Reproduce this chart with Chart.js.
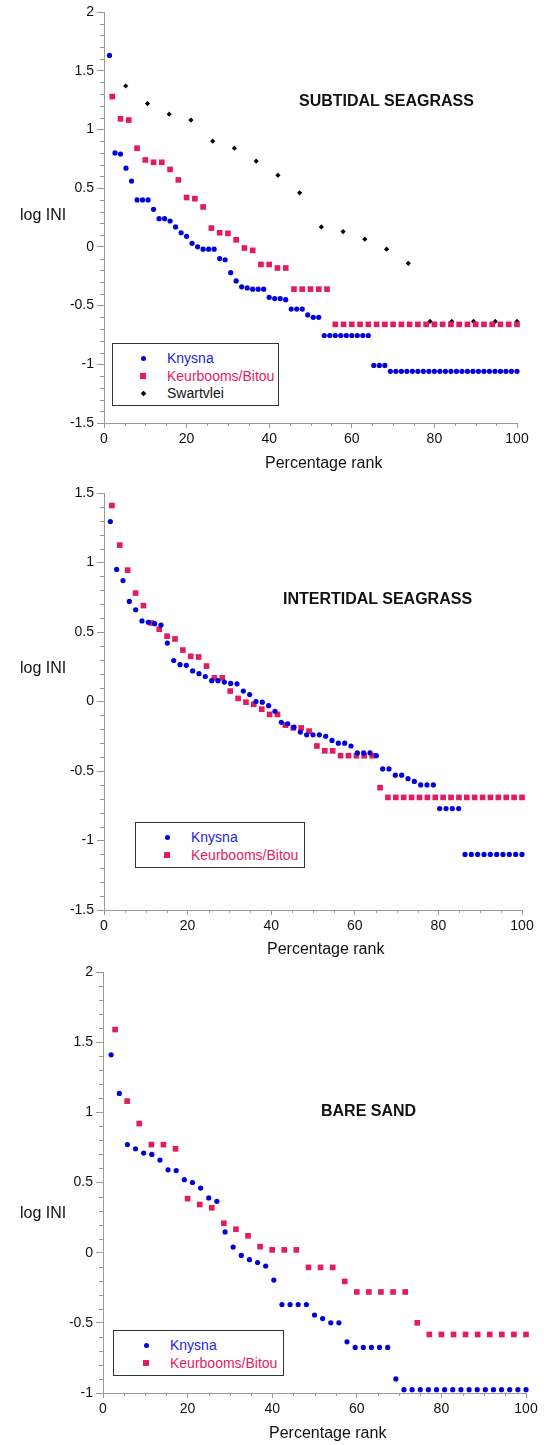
<!DOCTYPE html>
<html>
<head>
<meta charset="utf-8">
<title>log INI vs percentage rank</title>
<script src="https://cdn.jsdelivr.net/npm/chart.js@4.4.1/dist/chart.umd.min.js"></script>
<style>
  html, body { margin: 0; padding: 0; background: #fff; }
  body { position: relative; width: 544px; height: 1445px; overflow: hidden;
         font-family: "Liberation Sans", Arial, sans-serif; color: #111; }
  canvas { position: absolute; left: 0; }
  .txt { position: absolute; white-space: nowrap; font-size: 16px; line-height: 16px; }
  .title { font-weight: bold; }
  .legend { position: absolute; box-sizing: border-box; border: 1px solid #333; background: #fff; }
  .legend .item { position: absolute; font-size: 14px; line-height: 14px; white-space: nowrap; }
  .legend .mk { position: absolute; }
</style>
</head>
<body>
<script>
// --- DATA: SUBTIDAL SEAGRASS --- //
const subKnysnaX = [1.33, 2.67, 4, 5.33, 6.67, 8, 9.33, 10.67, 12, 13.33, 14.67, 16, 17.33, 18.67, 20,
  21.33, 22.67, 24, 25.33, 26.67, 28, 29.33, 30.67, 32, 33.33, 34.67, 36, 37.33, 38.67, 40,
  41.33, 42.67, 44, 45.33, 46.67, 48, 49.33, 50.67, 52, 53.33, 54.67, 56, 57.33, 58.67, 60,
  61.33, 62.67, 64, 65.33, 66.67, 68, 69.33, 70.67, 72, 73.33, 74.67, 76, 77.33, 78.67, 80,
  81.33, 82.67, 84, 85.33, 86.67, 88, 89.33, 90.67, 92, 93.33, 94.67, 96, 97.33, 98.67, 100];
const subKnysnaY = [1.63, 0.80, 0.79, 0.67, 0.56, 0.40, 0.40, 0.40, 0.32, 0.24, 0.24, 0.22, 0.17, 0.12, 0.09,
  0.03, 0.00, -0.02, -0.02, -0.02, -0.10, -0.11, -0.22, -0.29, -0.34, -0.35, -0.36, -0.36, -0.36, -0.43,
  -0.44, -0.44, -0.45, -0.53, -0.53, -0.53, -0.58, -0.60, -0.60, -0.755, -0.755, -0.755, -0.755, -0.755, -0.755,
  -0.755, -0.755, -0.755, -1.01, -1.01, -1.01, -1.06, -1.06, -1.06, -1.06, -1.06, -1.06, -1.06, -1.06, -1.06,
  -1.06, -1.06, -1.06, -1.06, -1.06, -1.06, -1.06, -1.06, -1.06, -1.06, -1.06, -1.06, -1.06, -1.06, -1.06];

const subKeurX = [2, 4, 6, 8, 10, 12, 14, 16, 18, 20, 22, 24, 26, 28, 30, 32, 34, 36, 38, 40, 42, 44, 46, 48, 50,
  52, 54, 56, 58, 60, 62, 64, 66, 68, 70, 72, 74, 76, 78, 80, 82, 84, 86, 88, 90, 92, 94, 96, 98, 100];
const subKeurY = [1.28, 1.09, 1.08, 0.84, 0.74, 0.72, 0.72, 0.66, 0.57, 0.42, 0.41, 0.34, 0.16, 0.12, 0.115,
  0.06, -0.01, -0.03, -0.15, -0.15, -0.18, -0.18, -0.36, -0.36, -0.36, -0.36, -0.36, -0.66, -0.66, -0.66,
  -0.66, -0.66, -0.66, -0.66, -0.66, -0.66, -0.66, -0.66, -0.66, -0.66, -0.66, -0.66, -0.66, -0.66, -0.66,
  -0.66, -0.66, -0.66, -0.66, -0.66];

const subSwartX = [5.26, 10.53, 15.79, 21.05, 26.32, 31.58, 36.84, 42.11, 47.37, 52.63, 57.89, 63.16,
  68.42, 73.68, 78.95, 84.21, 89.47, 94.74, 100];
const subSwartY = [1.37, 1.22, 1.13, 1.08, 0.90, 0.84, 0.73, 0.61, 0.46, 0.17, 0.13, 0.065,
  -0.02, -0.14, -0.635, -0.635, -0.635, -0.635, -0.635];

// --- DATA: INTERTIDAL SEAGRASS --- //
const intKnysnaX = [1.52, 3.03, 4.55, 6.06, 7.58, 9.09, 10.61, 12.12, 13.64, 15.15, 16.67, 18.18, 19.70,
  21.21, 22.73, 24.24, 25.76, 27.27, 28.79, 30.30, 31.82, 33.33, 34.85, 36.36, 37.88, 39.39, 40.91,
  42.42, 43.94, 45.45, 46.97, 48.48, 50.00, 51.52, 53.03, 54.55, 56.06, 57.58, 59.09, 60.61, 62.12,
  63.64, 65.15, 66.67, 68.18, 69.70, 71.21, 72.73, 74.24, 75.76, 77.27, 78.79, 80.30, 81.82, 83.33,
  84.85, 86.36, 87.88, 89.39, 90.91, 92.42, 93.94, 95.45, 96.97, 98.48, 100];
const intKnysnaY = [1.295, 0.95, 0.87, 0.72, 0.66, 0.58, 0.57, 0.56, 0.55, 0.42, 0.295, 0.265, 0.26,
  0.22, 0.20, 0.18, 0.15, 0.15, 0.14, 0.13, 0.127, 0.075, 0.05, 0.0, -0.005, -0.03, -0.07,
  -0.15, -0.16, -0.185, -0.22, -0.24, -0.24, -0.24, -0.25, -0.28, -0.30, -0.30, -0.32, -0.37, -0.37,
  -0.37, -0.39, -0.485, -0.485, -0.53, -0.53, -0.555, -0.575, -0.60, -0.60, -0.60, -0.77, -0.77, -0.77,
  -0.77, -1.10, -1.10, -1.10, -1.10, -1.10, -1.10, -1.10, -1.10, -1.10, -1.10];

const intKeurX = [1.89, 3.77, 5.66, 7.55, 9.43, 11.32, 13.21, 15.09, 16.98, 18.87, 20.75, 22.64, 24.53,
  26.42, 28.30, 30.19, 32.08, 33.96, 35.85, 37.74, 39.62, 41.51, 43.40, 45.28, 47.17, 49.06, 50.94,
  52.83, 54.72, 56.60, 58.49, 60.38, 62.26, 64.15, 66.04, 67.92, 69.81, 71.70, 73.58, 75.47, 77.36,
  79.25, 81.13, 83.02, 84.91, 86.79, 88.68, 90.57, 92.45, 94.34, 96.23, 98.11, 100];
const intKeurY = [1.41, 1.125, 0.945, 0.78, 0.69, 0.565, 0.52, 0.47, 0.45, 0.37, 0.325, 0.32, 0.255,
  0.17, 0.17, 0.075, 0.022, -0.005, -0.02, -0.055, -0.093, -0.093, -0.17, -0.19, -0.19, -0.213, -0.32,
  -0.355, -0.355, -0.39, -0.39, -0.39, -0.39, -0.39, -0.62, -0.69, -0.69, -0.69, -0.69, -0.69, -0.69,
  -0.69, -0.69, -0.69, -0.69, -0.69, -0.69, -0.69, -0.69, -0.69, -0.69, -0.69, -0.69];

// --- DATA: BARE SAND --- //
const sandKnysnaX = [1.92, 3.85, 5.77, 7.69, 9.62, 11.54, 13.46, 15.38, 17.31, 19.23, 21.15, 23.08, 25.00,
  26.92, 28.85, 30.77, 32.69, 34.62, 36.54, 38.46, 40.38, 42.31, 44.23, 46.15, 48.08, 50.00, 51.92,
  53.85, 55.77, 57.69, 59.62, 61.54, 63.46, 65.38, 67.31, 69.23, 71.15, 73.08, 75.00, 76.92, 78.85,
  80.77, 82.69, 84.62, 86.54, 88.46, 90.38, 92.31, 94.23, 96.15, 98.08, 100];
const sandKnysnaY = [1.41, 1.135, 0.77, 0.74, 0.71, 0.70, 0.66, 0.59, 0.585, 0.52, 0.50, 0.46, 0.39,
  0.366, 0.148, 0.04, -0.02, -0.05, -0.07, -0.095, -0.195, -0.37, -0.37, -0.37, -0.37, -0.445, -0.47,
  -0.50, -0.50, -0.635, -0.675, -0.675, -0.675, -0.675, -0.675, -0.90, -0.976, -0.976, -0.976, -0.976, -0.976,
  -0.976, -0.976, -0.976, -0.976, -0.976, -0.976, -0.976, -0.976, -0.976, -0.976, -0.976];

const sandKeurX = [2.86, 5.71, 8.57, 11.43, 14.29, 17.14, 20.00, 22.86, 25.71, 28.57, 31.43, 34.29,
  37.14, 40.00, 42.86, 45.71, 48.57, 51.43, 54.29, 57.14, 60.00, 62.86, 65.71, 68.57, 71.43, 74.29,
  77.14, 80.00, 82.86, 85.71, 88.57, 91.43, 94.29, 97.14, 100];
const sandKeurY = [1.59, 1.08, 0.92, 0.77, 0.77, 0.74, 0.385, 0.343, 0.32, 0.21, 0.167, 0.12,
  0.043, 0.02, 0.02, 0.02, -0.105, -0.105, -0.105, -0.205, -0.28, -0.28, -0.28, -0.28, -0.28, -0.50,
  -0.583, -0.583, -0.583, -0.583, -0.583, -0.583, -0.583, -0.583, -0.583];

// --- GAYA --- //
const BLUE = '#0000dd';
const PINK = '#e31c5f';
const BLACK = '#000000';
const AXIS = '#9a9a9a';

const series = {
  knysna: { label: 'Knysna', color: BLUE, text: '#2323e6', style: 'circle', radius: 2.6 },
  keur: { label: 'Keurbooms/Bitou', color: PINK, text: PINK, style: 'rect', radius: 4 },
  swart: { label: 'Swartvlei', color: BLACK, text: '#111', style: 'rectRot', radius: 2.6 }
};

function toPoints(xs, ys) {
  return xs.map((x, i) => ({ x: x, y: ys[i] }));
}

// minor ticks: every 5 on x, every 0.1 on y
const minorTicks = {
  id: 'minorTicks',
  afterDraw(chart, args, opts) {
    const { ctx, chartArea } = chart;
    const x = chart.scales.x, y = chart.scales.y;
    ctx.save();
    ctx.strokeStyle = AXIS;
    ctx.lineWidth = 1;
    ctx.beginPath();
    const nx = Math.round((x.max - x.min) / opts.xStep);
    for (let k = 0; k <= nx; k++) {
      if (k % opts.xEvery === 0) continue;
      const px = Math.round(x.getPixelForValue(x.min + k * opts.xStep)) + 0.5;
      ctx.moveTo(px, chartArea.bottom);
      ctx.lineTo(px, chartArea.bottom + 3);
    }
    const ny = Math.round((y.max - y.min) / opts.yStep);
    for (let k = 0; k <= ny; k++) {
      if (k % opts.yEvery === 0) continue;
      const py = Math.round(y.getPixelForValue(y.min + k * opts.yStep)) + 0.5;
      ctx.moveTo(chartArea.left - 4, py);
      ctx.lineTo(chartArea.left, py);
    }
    ctx.stroke();
    ctx.restore();
  }
};

function addText(text, cls, left, top, extra) {
  const d = document.createElement('div');
  d.className = 'txt ' + cls;
  d.textContent = text;
  d.style.left = left + 'px';
  d.style.top = top + 'px';
  if (extra) Object.assign(d.style, extra);
  document.body.appendChild(d);
  return d;
}

function addLegend(keys, box) {
  const lg = document.createElement('div');
  lg.className = 'legend';
  lg.style.left = box.left + 'px';
  lg.style.top = box.top + 'px';
  lg.style.width = box.width + 'px';
  lg.style.height = box.height + 'px';
  keys.forEach((key, i) => {
    const s = series[key];
    const cy = box.rows[i];
    const mk = document.createElement('div');
    mk.className = 'mk';
    let sz = s.style === 'rect' ? 6 : 5;
    mk.style.width = sz + 'px';
    mk.style.height = sz + 'px';
    mk.style.left = (box.markX - sz / 2 - 1) + 'px';
    mk.style.top = (cy - sz / 2 - 1) + 'px';
    mk.style.background = s.color;
    if (s.style === 'circle') mk.style.borderRadius = '50%';
    if (s.style === 'rectRot') mk.style.transform = 'rotate(45deg) scale(0.8)';
    lg.appendChild(mk);
    const t = document.createElement('div');
    t.className = 'item';
    t.textContent = s.label;
    t.style.color = s.text;
    t.style.left = (box.textX - 1) + 'px';
    t.style.top = (cy - 8) + 'px';
    lg.appendChild(t);
  });
  document.body.appendChild(lg);
}

function makePanel(p) {
  const canvas = document.createElement('canvas');
  canvas.width = 544;
  canvas.height = p.height;
  canvas.style.top = p.top + 'px';
  document.body.appendChild(canvas);

  const datasets = p.sets.map(([key, xs, ys]) => {
    const s = series[key];
    return {
      label: s.label,
      data: toPoints(xs, ys),
      pointStyle: s.style,
      pointRadius: s.radius,
      pointBackgroundColor: s.color,
      pointBorderColor: s.color,
      pointBorderWidth: 0,
      showLine: false,
      clip: false
    };
  });

  new Chart(canvas.getContext('2d'), {
    type: 'scatter',
    data: { datasets: datasets },
    plugins: [minorTicks],
    options: {
      responsive: false,
      animation: false,
      events: [],
      layout: { padding: { left: 0, top: p.padTop, right: p.padRight, bottom: 0 } },
      plugins: {
        legend: { display: false },
        tooltip: { enabled: false },
        minorTicks: { xStep: 5, xEvery: 4, yStep: 0.1, yEvery: 5 }
      },
      scales: {
        x: {
          type: 'linear',
          min: 0, max: 100,
          border: { color: AXIS, width: 1 },
          grid: { drawOnChartArea: false, color: AXIS, tickLength: 5 },
          ticks: { stepSize: 20, padding: 3, color: '#111',
                   font: { family: 'Liberation Sans', size: 14 } },
          afterFit(s) { s.height = p.xHeight; }
        },
        y: {
          type: 'linear',
          min: p.yMin, max: p.yMax,
          border: { color: AXIS, width: 1 },
          grid: { drawOnChartArea: false, color: AXIS, tickLength: 7 },
          ticks: { stepSize: 0.5, padding: 3, color: '#111',
                   font: { family: 'Liberation Sans', size: 14 },
                   callback: v => String(v) },
          afterFit(s) { s.width = p.yWidth; }
        }
      }
    }
  });

  addText(p.title, 'title', p.titleX, p.titleY - 8);
  addText('log INI', '', 20, p.yLabelY - 8);
  addText('Percentage rank', '', p.xLabelX - 58, p.xLabelY - 8);
  addLegend(p.sets.map(s => s[0]), p.legend);
}

document.addEventListener('DOMContentLoaded', () => {
  makePanel({
    top: 0, height: 480, padTop: 12, padRight: 27, yWidth: 104, xHeight: 57,
    yMin: -1.5, yMax: 2,
    title: 'SUBTIDAL SEAGRASS', titleX: 299, titleY: 101,
    yLabelY: 215, xLabelX: 323, xLabelY: 463,
    sets: [['knysna', subKnysnaX, subKnysnaY], ['keur', subKeurX, subKeurY], ['swart', subSwartX, subSwartY]],
    legend: { left: 112, top: 343, width: 167, height: 63, markX: 31, textX: 55, rows: [15, 32.5, 50] }
  });

  makePanel({
    top: 480, height: 480, padTop: 13, padRight: 22, yWidth: 104, xHeight: 50,
    yMin: -1.5, yMax: 1.5,
    title: 'INTERTIDAL SEAGRASS', titleX: 283, titleY: 599,
    yLabelY: 668, xLabelX: 325, xLabelY: 949,
    sets: [['knysna', intKnysnaX, intKnysnaY], ['keur', intKeurX, intKeurY]],
    legend: { left: 135, top: 822, width: 170, height: 46, markX: 32, textX: 56, rows: [15, 33] }
  });

  makePanel({
    top: 960, height: 485, padTop: 12, padRight: 18, yWidth: 103, xHeight: 52,
    yMin: -1, yMax: 2,
    title: 'BARE SAND', titleX: 321, titleY: 1111,
    yLabelY: 1213, xLabelX: 327, xLabelY: 1433,
    sets: [['knysna', sandKnysnaX, sandKnysnaY], ['keur', sandKeurX, sandKeurY]],
    legend: { left: 113, top: 1330, width: 171, height: 46, markX: 33, textX: 57, rows: [15, 33] }
  });
});
</script>
</body>
</html>
